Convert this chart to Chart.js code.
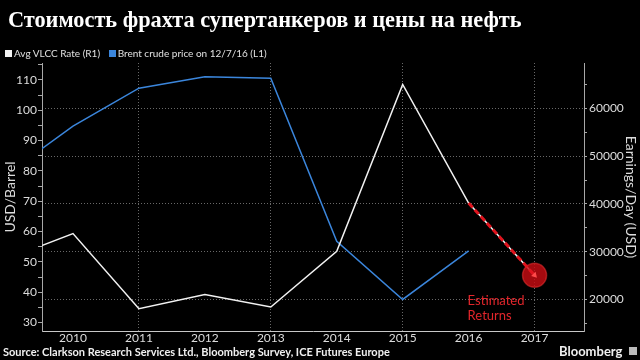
<!DOCTYPE html>
<html>
<head>
<meta charset="utf-8">
<script src="https://cdn.jsdelivr.net/npm/chart.js@4.4.1/dist/chart.umd.min.js"></script>
<style>
  html, body { margin: 0; padding: 0; background: #000; }
  #wrap { position: relative; width: 640px; height: 360px; overflow: hidden; background: #000; }
  #chart { position: absolute; left: 0; top: 0; }
  .title { position: absolute; left: 8px; top: 9px; font: bold 22.3px 'Liberation Serif', serif; line-height: 22px; color: #fff; white-space: nowrap; }
  .legend { position: absolute; left: 5px; top: 47px; font: 10px Lato, sans-serif; line-height: 12px; color: #e0e0e0; white-space: nowrap; }
  .legend span.sw { display: inline-block; width: 7px; height: 7px; margin-right: 2px; vertical-align: 0px; }
  .legend span.item { margin-right: 6px; }
  .source { position: absolute; left: 3px; top: 345px; font: bold 11px Lato, sans-serif; line-height: 13px; color: #f0f0f0; white-space: nowrap; }
  .brand { position: absolute; left: 559px; top: 344px; font: bold 13px Lato, sans-serif; line-height: 15px; color: #f0f0f0; white-space: nowrap; }
  .logo { position: absolute; left: 629px; top: 347px; width: 8px; height: 8px; background: #bbb; }
</style>
</head>
<body>
<div id="wrap">
  <canvas id="chart" width="640" height="360"></canvas>
  <div class="title">Стоимость фрахта супертанкеров и цены на нефть</div>
  <div class="legend">
    <span class="item"><span class="sw" style="background:#f2f2f2"></span>Avg VLCC Rate (R1)</span>
    <span class="item"><span class="sw" style="background:#3b86dc"></span>Brent crude price on 12/7/16 (L1)</span>
  </div>
  <div class="source">Source: Clarkson Research Services Ltd., Bloomberg Survey, ICE Futures Europe</div>
  <div class="brand">Bloomberg</div>
  <div class="logo"></div>
</div>
<script>
// chart data
const years = [2009, 2010, 2011, 2012, 2013, 2014, 2015, 2016, 2017];
const tickYears = [2010, 2011, 2012, 2013, 2014, 2015, 2016, 2017];
const brentPrice = [79, 94.8, 107.3, 111.1, 110.6, 56.8, 37.6, 53.6, null];   // USD/barrel (L1)
const vlccRate = [28500, 33800, 18100, 21050, 18450, 30100, 65000, 40200, 25100]; // USD/day (R1)
const leftTicks = [30, 35, 40, 45, 50, 55, 60, 65, 70, 75, 80, 85, 90, 95, 100, 105, 110, 115];
const rightTicks = [15000, 20000, 25000, 30000, 35000, 40000, 45000, 50000, 55000, 60000, 65000];
const estimateFrom = 2016;
const estimateLabel = ['Estimated', 'Returns'];

const COLORS = {
  vlcc: '#f2f2f2',
  brent: '#3b86dc',
  estimate: '#e0141e',
  grid: 'rgba(190,190,190,0.55)',
  axis: '#a8a8a8',
  text: '#dcdcdc',
};

const toPoints = (vals) => years.map((y, i) => ({ x: y, y: vals[i] })).filter(p => p.y !== null);
const estIdx = years.indexOf(estimateFrom);
const estPoints = toPoints(vlccRate).slice(estIdx);
const lastPoint = estPoints[estPoints.length - 1];
const setTicks = (list) => (s) => { s.ticks = list.map(v => ({ value: v })); };

const estimateText = {
  id: 'estimateText',
  afterDatasetsDraw(chart) {
    const { ctx, scales } = chart;
    const x = scales.x.getPixelForValue(estimateFrom);
    const y = scales.yR.getPixelForValue(lastPoint.y);
    ctx.save();
    ctx.fillStyle = '#e3262b';
    ctx.font = '13px Lato, sans-serif';
    ctx.textAlign = 'left';
    ctx.textBaseline = 'middle';
    estimateLabel.forEach((t, i) => ctx.fillText(t, x - 1, y + 26 + i * 14.6));
    ctx.restore();
  },
};

new Chart(document.getElementById('chart'), {
  type: 'line',
  data: {
    datasets: [
      {
        label: 'Estimated',
        data: estPoints,
        yAxisID: 'yR',
        borderColor: COLORS.estimate,
        borderWidth: 3,
        borderDash: [6, 3],
        pointRadius: estPoints.map((_, i) => i === estPoints.length - 1 ? 3.5 : 0),
        pointStyle: 'triangle',
        pointRotation: 137,
        pointBackgroundColor: '#ff4a4a',
        pointBorderWidth: 0,
      },
      {
        label: 'Estimate marker',
        data: [lastPoint],
        yAxisID: 'yR',
        showLine: false,
        pointRadius: 12,
        pointBackgroundColor: 'rgba(200,12,18,0.82)',
        pointBorderColor: 'rgba(235,50,50,0.55)',
        pointBorderWidth: 1.5,
      },
      {
        label: 'Avg VLCC Rate (R1)',
        data: toPoints(vlccRate),
        yAxisID: 'yR',
        borderColor: COLORS.vlcc,
        borderWidth: 1.5,
        pointRadius: 0,
        tension: 0,
      },
      {
        label: 'Brent crude price on 12/7/16 (L1)',
        data: toPoints(brentPrice),
        yAxisID: 'yL',
        borderColor: COLORS.brent,
        borderWidth: 1.5,
        pointRadius: 0,
        tension: 0,
      },
    ],
  },
  options: {
    responsive: false,
    animation: false,
    events: [],
    layout: { padding: { top: 63, left: 0, right: 0, bottom: 0 } },
    plugins: { legend: { display: false }, tooltip: { enabled: false } },
    scales: {
      x: {
        type: 'linear',
        min: 2009.53,
        max: 2017.75,
        afterBuildTicks: setTicks(tickYears),
        afterFit: (s) => { s.height = 29; },
        grid: {
          drawTicks: false,
          color: (c) => (c.tick && c.tick.value % 2 === 1) ? COLORS.grid : 'transparent',
        },
        border: { display: true, color: '#c8c8c8', width: 1, dash: [1, 2] },
        ticks: {
          color: COLORS.text,
          font: { family: 'Lato', size: 12 },
          padding: 0,
          maxRotation: 0,
          autoSkip: false,
          callback: (v) => String(v),
        },
      },
      yL: {
        position: 'left',
        min: 27.2,
        max: 115.6,
        afterBuildTicks: setTicks(leftTicks),
        afterFit: (s) => { s.width = 42; },
        grid: { drawOnChartArea: false, tickLength: 4, tickColor: COLORS.axis },
        border: { display: true, color: COLORS.axis, width: 1 },
        ticks: {
          autoSkip: false,
          color: COLORS.text,
          font: { family: 'Lato', size: 12 },
          padding: 1,
          callback: (v) => v % 10 === 0 ? String(v) : '',
        },
        title: {
          display: true,
          text: 'USD/Barrel',
          color: COLORS.text,
          font: { family: 'Lato', size: 14 },
          padding: { top: 2, bottom: 0 },
        },
      },
      yR: {
        position: 'right',
        min: 13425,
        max: 69487,
        afterBuildTicks: setTicks(rightTicks),
        afterFit: (s) => { s.width = 56; },
        grid: {
          drawOnChartArea: true,
          tickLength: 3,
          tickColor: COLORS.axis,
          color: (c) => (c.tick && c.tick.value % 10000 === 0) ? COLORS.grid : 'transparent',
        },
        border: { display: true, color: COLORS.axis, width: 1, dash: [1, 2] },
        ticks: {
          autoSkip: false,
          color: COLORS.text,
          font: { family: 'Lato', size: 12 },
          padding: 2,
          callback: (v) => v % 10000 === 0 ? String(v) : '',
        },
        title: {
          display: true,
          text: 'Earnings/Day (USD)',
          color: COLORS.text,
          font: { family: 'Lato', size: 14 },
          padding: { top: 1, bottom: 0 },
        },
      },
    },
  },
  plugins: [estimateText],
});
</script>
</body>
</html>
